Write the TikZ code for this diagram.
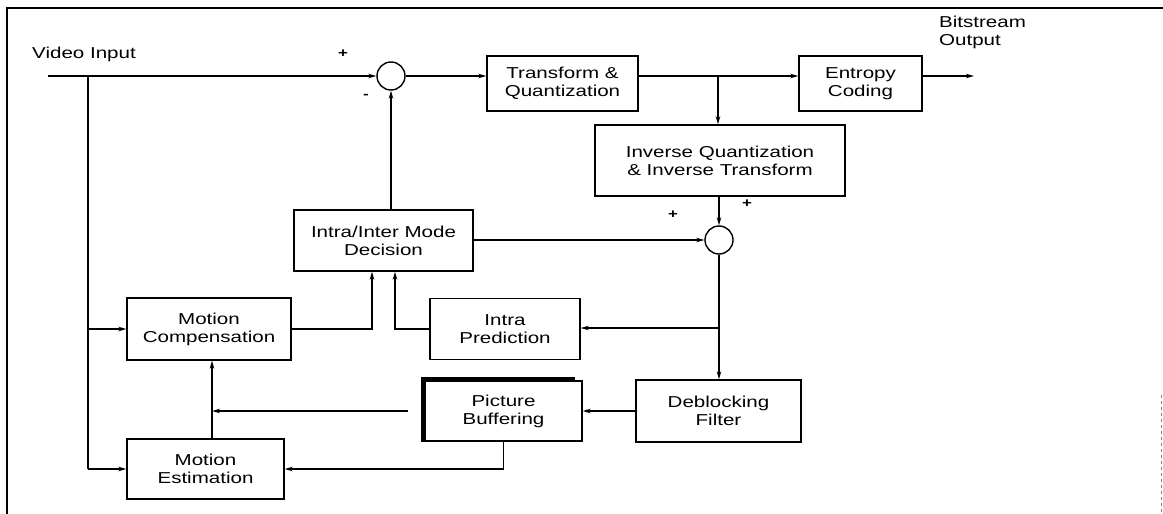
\documentclass[tikz,border=0pt]{standalone}
\usepackage{fontspec}
\setmainfont{Liberation Sans}[FakeStretch=1.3]
\usetikzlibrary{arrows.meta}
\begin{document}
\begin{tikzpicture}[x=1pt,y=-1pt,
  blk/.style={draw, line width=1.4pt, inner sep=0pt, align=center,
              font=\fontsize{15.8}{18}\selectfont},
  arr/.style={line width=1.3pt, -{Stealth[length=8pt,width=4.5pt]}},
  ln/.style={line width=1.3pt},
  sumc/.style={draw, circle, line width=1.4pt, minimum size=28pt, inner sep=0pt},
  lbl/.style={font=\fontsize{15.8}{18}\selectfont, inner sep=0pt},
  sgn/.style={font=\fontsize{13}{13}\selectfont\bfseries, inner sep=0pt}]
\useasboundingbox (0,0) rectangle (1163,514);

% outer frame
\draw[ln] (7,514) -- (7,8) -- (1163,8);
\draw[line width=1pt, gray, dashed] (1161,395) -- (1161,514);

% summing junctions
\node[sumc] (s1) at (391,76) {};
\node[sumc] (s2) at (719,240) {};

% processing blocks
\node[blk, minimum width=151pt, minimum height=55pt] (tq) at (562.5,83.5) {Transform \&\\Quantization};
\node[blk, minimum width=123pt, minimum height=55pt] (ec) at (860.5,83.5) {Entropy\\Coding};
\node[blk, minimum width=250pt, minimum height=71pt] (iq) at (720,160.5) {Inverse Quantization\\\& Inverse Transform};
\node[blk, minimum width=179pt, minimum height=61pt] (md) at (383.5,240.5) {Intra/Inter Mode\\Decision};
\node[blk, minimum width=164pt, minimum height=62pt] (mc) at (209,329) {Motion\\Compensation};
\node[blk, minimum width=150pt, minimum height=61pt] (ip) at (505,329) {Intra\\Prediction};
\node[blk, minimum width=157pt, minimum height=60pt] (pb) at (503.5,411) {Picture\\Buffering};
\node[blk, minimum width=165pt, minimum height=62pt] (db) at (718.5,411) {Deblocking\\Filter};
\node[blk, minimum width=157pt, minimum height=60pt] (me) at (205.5,469) {Motion\\Estimation};

% heavy top-left edge of the picture buffer
\draw[line width=4pt] ([shift={(-1.5,0)}]pb.south west) -- ([shift={(-1.5,-1.5)}]pb.north west) -- ([shift={(-8,-1.5)}]pb.north east);

% labels
\node[lbl, anchor=west] (vi) at (32,54) {Video Input};
\node[lbl, anchor=north west, align=left] (bo) at (939,16) {Bitstream\\Output};
\node[sgn] (p1) at (343,54) {+};
\node[sgn] (m1) at (366,96) {-};
\node[sgn] (p2) at (673,215) {+};
\node[sgn] (p3) at (747,204) {+};

% named points on the signal paths
\coordinate (vin) at (48,76);
\coordinate (out) at (974,76);
\coordinate (br0) at (88,76);
\coordinate (br1) at (718,76);
\coordinate (br2) at (719,328);
\coordinate (vx) at (212,0);
\coordinate (fbs) at (408,411);
\coordinate (fbe) at (vx |- fbs);

% forward path
\draw[arr] (vin) -- (s1.west);
\draw[arr] (s1.east) -- (tq.west |- s1);
\draw[arr] (tq.east |- s1) -- (ec.west |- s1);
\draw[arr] (ec.east |- s1) -- (out);

% reconstruction loop
\draw[arr] (br1) -- (br1 |- iq.north);
\draw[arr] (s2 |- iq.south) -- (s2.north);
\draw[arr] (md.east |- s2) -- (s2.west);
\draw[arr] (md.north -| s1) -- (s1.south);
\draw[arr] (s2.south) -- (s2 |- db.north);
\draw[arr] (br2) -- (ip.east |- br2);
\draw[arr] (db.west) -- (pb.east);
\draw[arr] (pb.south) |- (me.east);
\draw[arr] (fbs) -- (fbe);
\draw[arr] (vx |- me.north) -- (vx |- mc.south);

% input branches to motion blocks
\draw[ln] (br0) -- (br0 |- me.west);
\draw[arr] (br0 |- me.west) -- (me.west);
\draw[arr] (br0 |- mc.west) -- (mc.west);

% predictions into the mode decision
\draw[arr] (mc.east) -| ([xshift=-11.5pt]md.south);
\draw[arr] (ip.west) -| ([xshift=11.5pt]md.south);
\end{tikzpicture}
\end{document}
